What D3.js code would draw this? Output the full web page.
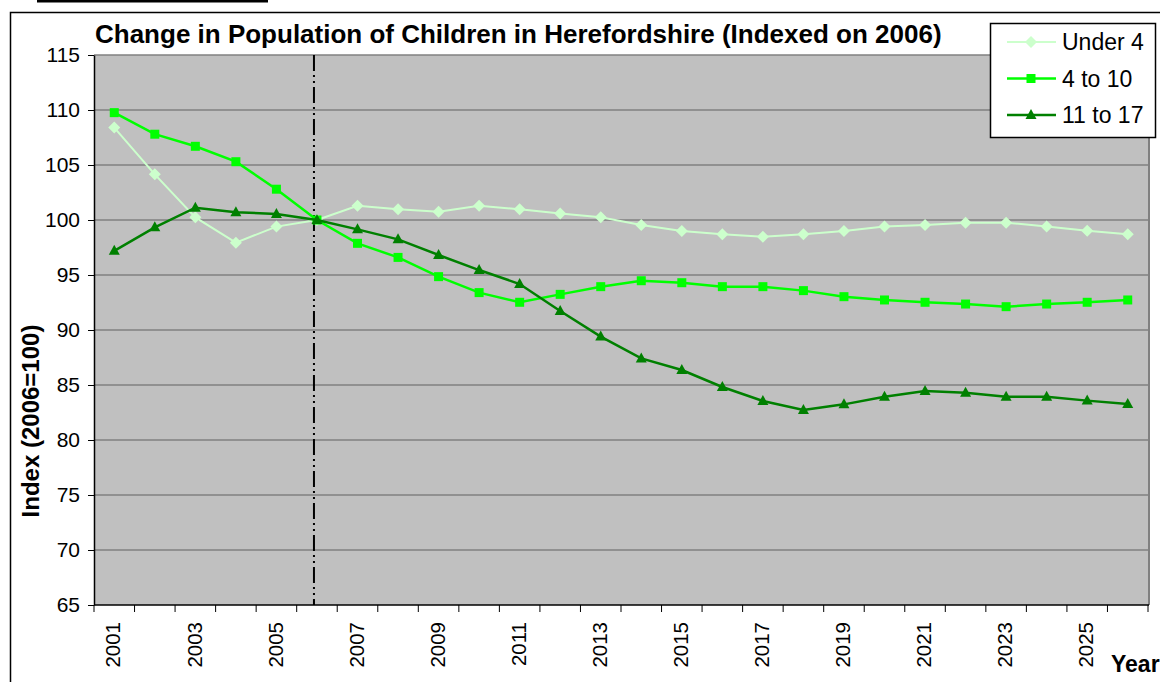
<!DOCTYPE html>
<html>
<head>
<meta charset="utf-8">
<script src="https://cdn.jsdelivr.net/npm/d3@7"></script>
<style>
    html, body { margin: 0; padding: 0; background: #fff; }
    svg { display: block; font-family: "Liberation Sans", Arial, sans-serif; }
</style>
</head>
<body>
<div id="chart"></div>
<script>
// data
const years = d3.range(2001, 2027);
const under4 = [108.4, 104.15, 100.24, 97.94, 99.4, 100, 101.3, 100.97, 100.76, 101.3, 100.97, 100.6, 100.24,
    99.55, 99.0, 98.7, 98.48, 98.7, 99.0, 99.4, 99.55, 99.76, 99.76, 99.4, 99.03, 98.7];
const age4to10 = [109.76, 107.8, 106.7, 105.3, 102.8, 100, 97.88, 96.6, 94.85, 93.4, 92.52, 93.24, 93.94,
    94.48, 94.3, 93.94, 93.94, 93.58, 93.03, 92.73, 92.52, 92.36, 92.12, 92.36, 92.52, 92.73];
const age11to17 = [97.2, 99.33, 101.12, 100.7, 100.55, 100, 99.15, 98.24, 96.82, 95.45, 94.18, 91.73, 89.4,
    87.42, 86.36, 84.82, 83.55, 82.73, 83.24, 83.94, 84.45, 84.3, 83.94, 83.94, 83.58, 83.27];
const seriesNames = ["Under 4", "4 to 10", "11 to 17"];
const yTicks = d3.range(65, 116, 5);
const xLabelYears = years.filter(y => y % 2 === 1);
const baseYear = 2006;

function makeChart(containerSelector) {
    const width = 1160;
    const height = 682;
    const plot = { left: 94, right: 1148, top: 55, bottom: 605 };

    d3.select(containerSelector).html("");
    const svg = d3.select(containerSelector)
        .append("svg")
        .attr("width", width)
        .attr("height", height)
        .attr("viewBox", `0 0 ${width} ${height}`);

    // cut off heading underline at the very top
    svg.append("rect")
        .attr("x", 37).attr("y", 0)
        .attr("width", 231).attr("height", 2.5)
        .attr("fill", "#000");

    // outer chart frame (runs off the page on right / bottom)
    svg.append("rect")
        .attr("x", 10.5).attr("y", 12.5)
        .attr("width", 1300).attr("height", 800)
        .attr("fill", "#fff")
        .attr("stroke", "#000")
        .attr("stroke-width", 1.5);

    const x = d3.scaleBand()
        .domain(years)
        .range([plot.left, plot.right])
        .padding(0);
    const xc = d => x(d) + x.bandwidth() / 2;

    const y = d3.scaleLinear()
        .domain([65, 115])
        .range([plot.bottom, plot.top]);

    // plot background
    svg.append("rect")
        .attr("x", plot.left).attr("y", plot.top)
        .attr("width", plot.right - plot.left)
        .attr("height", plot.bottom - plot.top)
        .attr("fill", "#C0C0C0");

    // grid lines
    svg.append("g")
        .selectAll("line")
        .data(yTicks.filter(t => t > 65))
        .join("line")
        .attr("x1", plot.left).attr("x2", plot.right)
        .attr("y1", d => y(d)).attr("y2", d => y(d))
        .attr("stroke", "#808080")
        .attr("stroke-width", 1.5);

    // right border of plot
    svg.append("line")
        .attr("x1", plot.right + 1).attr("x2", plot.right + 1)
        .attr("y1", plot.top).attr("y2", plot.bottom)
        .attr("stroke", "#808080")
        .attr("stroke-width", 2);

    // y axis
    const yAxis = svg.append("g")
        .attr("transform", `translate(${plot.left},0)`)
        .call(d3.axisLeft(y).tickValues(yTicks).tickSize(6).tickPadding(8).tickSizeOuter(0));
    yAxis.select(".domain").attr("stroke", "#000").attr("stroke-width", 1.5);
    yAxis.selectAll(".tick line").attr("stroke", "#000");
    yAxis.selectAll(".tick text")
        .attr("font-size", "21px")
        .attr("font-family", "Liberation Sans, Arial, sans-serif")
        .attr("fill", "#000");

    // x axis: ticks on category edges, labels every other year
    const xAxis = svg.append("g");
    xAxis.append("line")
        .attr("x1", plot.left).attr("x2", plot.right + 1)
        .attr("y1", plot.bottom).attr("y2", plot.bottom)
        .attr("stroke", "#000")
        .attr("stroke-width", 1.5);
    xAxis.selectAll("line.tick")
        .data(years.concat([null]))
        .join("line")
        .attr("class", "tick")
        .attr("x1", d => d === null ? plot.right : x(d))
        .attr("x2", d => d === null ? plot.right : x(d))
        .attr("y1", plot.bottom).attr("y2", plot.bottom + 7)
        .attr("stroke", "#000");
    xAxis.selectAll("text")
        .data(xLabelYears)
        .join("text")
        .attr("transform", d => `translate(${xc(d) - 1},622) rotate(-90)`)
        .attr("text-anchor", "end")
        .attr("dy", "0.35em")
        .attr("font-size", "20.5px")
        .attr("fill", "#000")
        .text(d => d);

    // base year marker line (dash dot dot)
    svg.append("line")
        .attr("x1", xc(baseYear) - 3).attr("x2", xc(baseYear) - 3)
        .attr("y1", plot.top).attr("y2", plot.bottom)
        .attr("stroke", "#000")
        .attr("stroke-width", 2)
        .attr("stroke-dasharray", "16,4,2,4,2,4");

    // series
    const series = [
        { name: seriesNames[0], values: under4, color: "#CCFFCC", width: 2, marker: "diamond" },
        { name: seriesNames[1], values: age4to10, color: "#00FF00", width: 2.5, marker: "square" },
        { name: seriesNames[2], values: age11to17, color: "#008000", width: 2.5, marker: "triangle" }
    ];
    const markerPath = {
        diamond: "M0,-6L6,0L0,6L-6,0Z",
        square: "M-4.5,-4.5H4.5V4.5H-4.5Z",
        triangle: "M0,-6L5.5,4L-5.5,4Z"
    };

    const line = d3.line()
        .x((d, i) => xc(years[i]))
        .y(d => y(d));

    series.forEach(s => {
        const g = svg.append("g");
        g.append("path")
            .attr("d", line(s.values))
            .attr("fill", "none")
            .attr("stroke", s.color)
            .attr("stroke-width", s.width);
        g.selectAll("path.marker")
            .data(s.values)
            .join("path")
            .attr("class", "marker")
            .attr("d", markerPath[s.marker])
            .attr("transform", (d, i) => `translate(${xc(years[i])},${y(d)})`)
            .attr("fill", s.color);
    });

    // title
    svg.append("text")
        .attr("x", 95).attr("y", 43)
        .attr("font-size", "26px")
        .attr("font-weight", "bold")
        .attr("fill", "#000")
        .text("Change in Population of Children in Herefordshire (Indexed on 2006)");

    // axis titles
    svg.append("text")
        .attr("transform", "translate(39,421) rotate(-90)")
        .attr("text-anchor", "middle")
        .attr("font-size", "24px")
        .attr("font-weight", "bold")
        .attr("fill", "#000")
        .text("Index (2006=100)");

    svg.append("text")
        .attr("x", 1111).attr("y", 672)
        .attr("font-size", "23px")
        .attr("font-weight", "bold")
        .attr("fill", "#000")
        .text("Year");

    // legend
    const legend = svg.append("g").attr("transform", "translate(990,23)");
    legend.append("rect")
        .attr("x", 0.5).attr("y", 0.5)
        .attr("width", 165).attr("height", 114)
        .attr("fill", "#fff")
        .attr("stroke", "#000")
        .attr("stroke-width", 1.5);
    series.forEach((s, i) => {
        const ly = 19 + i * 36.5;
        legend.append("line")
            .attr("x1", 17).attr("x2", 66)
            .attr("y1", ly).attr("y2", ly)
            .attr("stroke", s.color)
            .attr("stroke-width", s.width);
        legend.append("path")
            .attr("d", markerPath[s.marker])
            .attr("transform", `translate(41,${ly})`)
            .attr("fill", s.color);
        legend.append("text")
            .attr("x", 72).attr("y", ly)
            .attr("dy", "0.35em")
            .attr("font-size", "23px")
            .attr("fill", "#000")
            .text(s.name);
    });

    return svg.node();
}

makeChart("#chart");
</script>
</body>
</html>
